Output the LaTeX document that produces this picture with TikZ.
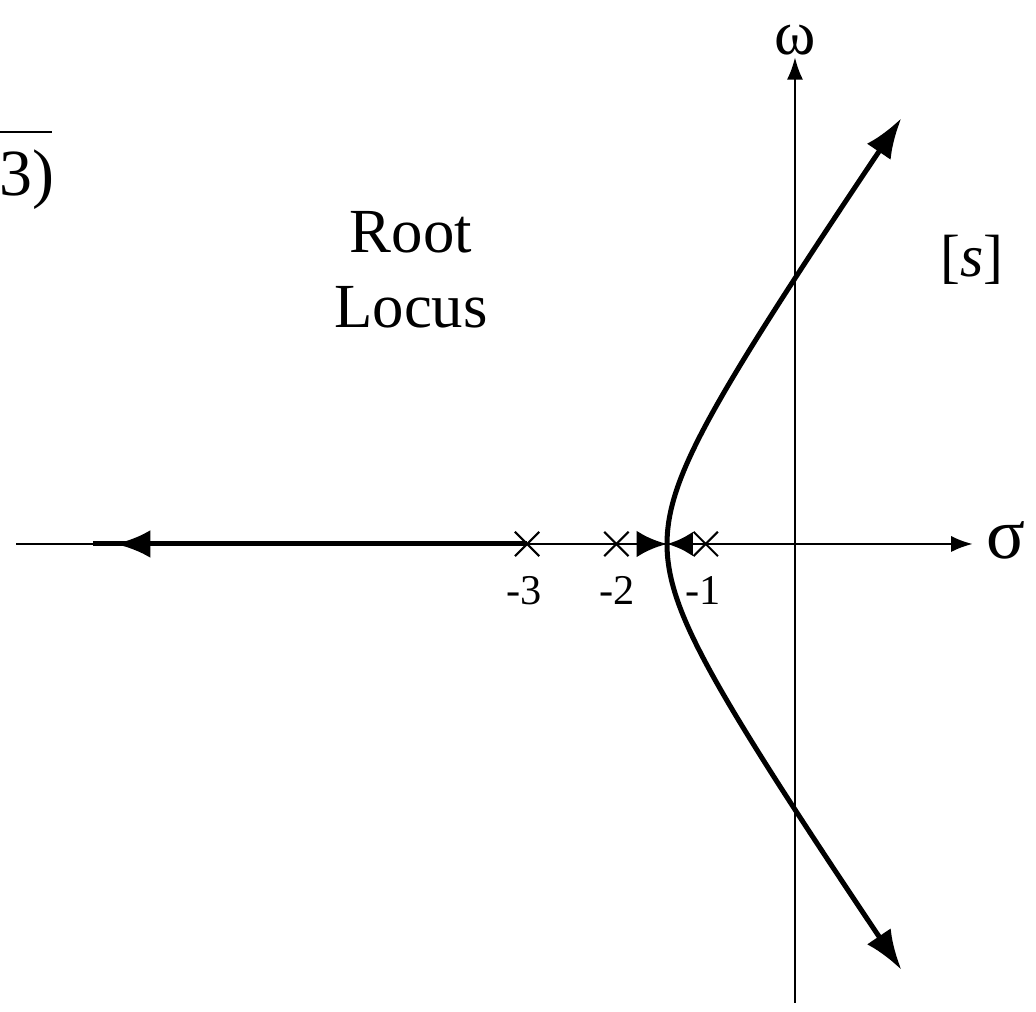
\documentclass[tikz,border=0pt]{standalone}
\usepackage{fontspec}
\setmainfont{Liberation Serif}
\usetikzlibrary{arrows.meta,shapes}

\begin{document}
\begin{tikzpicture}[scale=1.0, >=Latex,
    axis/.style={line width=0.7pt},
    locus/.style={line width=1.6pt},
    pole/.style={draw, cross out, line width=0.65pt, minimum size=2.5mm, inner sep=0pt},
    tick/.style={font=\fontsize{13.5}{15}\selectfont},
    big/.style={font=\fontsize{20}{24}\selectfont}]
    \useasboundingbox (-8.903,-5.241) rectangle (2.699,6.092);

    % Axes
    \coordinate (W) at (-8.72,0);
    \coordinate (E) at (1.99,0);
    \coordinate (S) at (0,-5.14);
    \coordinate (N) at (0,5.45);
    \draw[axis, -{Latex[length=2.4mm,width=1.8mm]}] (W) -- (E);
    \draw[axis, -{Latex[length=2.5mm,width=1.8mm]}] (S) -- (N);
    \node[font=\fontsize{23}{26}\selectfont] (sigma) at (2.36,0.04) {σ};
    \node[font=\fontsize{20}{22}\selectfont] (omega) at (0,5.64) {ω};

    % Poles
    \node[pole] (p3) at (-3,0) {};
    \node[pole] (p2) at (-2,0) {};
    \node[pole] (p1) at (-1,0) {};
    \node[tick] (l3) at (-3.03,-0.52) {-3};
    \node[tick] (l2) at (-1.99,-0.52) {-2};
    \node[tick] (l1) at (-1.03,-0.52) {-1};

    % Locus on the real axis
    \coordinate (far) at (-7.86,0);
    \coordinate (farhead) at (-7.61,0);
    \coordinate (farbase) at (-7.22,0);
    \coordinate (brk) at (-1.433,0);
    \coordinate (brkL) at (-1.77,0);
    \coordinate (brkR) at (-1.14,0);
    \draw[locus] (far) -- (p3.center);
    \draw[locus, -{Latex[length=3.9mm,width=3.1mm]}] (farbase) -- (farhead);
    \draw[locus, -{Latex[length=3.4mm,width=3mm]}] (brkL) -- (brk);
    \draw[locus, -{Latex[length=2.9mm,width=2.8mm]}] (brkR) -- (brk);

    % Complex branches (hyperbola)
    \draw[locus, {Latex[length=4.5mm,width=3.2mm]}-{Latex[length=4.5mm,width=3.2mm]}]
        plot[domain=-2.173:2.173, samples=90, smooth]
        ({-2.194+0.761*cosh(\x)}, {1.10*sinh(\x)});

    % Labels
    \node[big, align=center] (title) at (-4.30,3.07) {Root\\Locus};
    \node[font=\fontsize{19}{22}\selectfont] (plane) at (1.98,3.18) {[\textit{s}]};

    % Cut-off transfer function
    \node[font=\fontsize{21}{24}\selectfont] (den) at (-8.60,4.08) {3)};
    \coordinate (barL) at (-8.903,4.614);
    \coordinate (barR) at (-8.32,4.614);
    \draw[axis] (barL) -- (barR);

\end{tikzpicture}
\end{document}
